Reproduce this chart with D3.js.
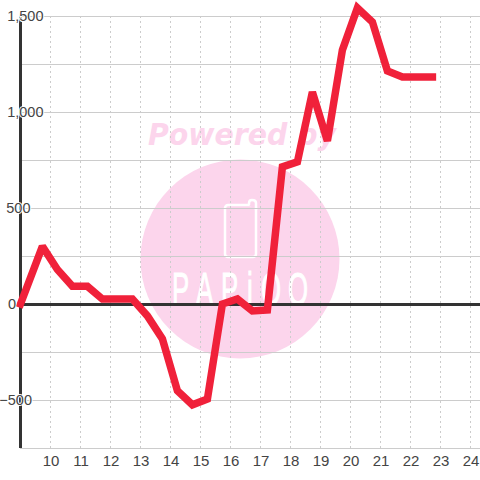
<!DOCTYPE html>
<html><head><meta charset="utf-8">
<style>html,body{margin:0;padding:0;background:#fff}svg{display:block}</style>
<script src="https://cdnjs.cloudflare.com/ajax/libs/d3/7.8.5/d3.min.js"></script></head>
<body><svg id="c" width="480" height="480"></svg>
<script>
const hours=[9,9.73,10.23,10.73,11.23,11.73,12.23,12.73,13.23,13.73,14.23,14.73,15.23,15.73,16.23,16.73,17.23,17.73,18.23,18.73,19.23,19.73,20.23,20.73,21.23,21.73,22.23,22.73];
const values=[0,300,180,92,92,26,26,26,-62,-182,-452,-525,-495,0,26,-36,-31,714,740,1104,849,1323,1542,1469,1214,1182,1182,1182];
const xTicks=[10,11,12,13,14,15,16,17,18,19,20,21,22,23,24];
const yMajor=[1500,1000,500,0,-500];
const yMinor=[1250,750,250,-250,-750];
const yLabelRight=[43.5,43.5,30.5,16,32];
const logoLetters=["P","A","P","i","O","O"];
const logoLeft=[172,196,221,247,261,288];

const svg=d3.select("#c");
const x=d3.scaleLinear().domain([10,24]).range([50.5,470.5]);
const y=d3.scaleLinear().domain([1500,-750]).range([16,448]);
const line=d3.line().x((d,i)=>x(hours[i])).y(d=>y(d));

// watermark
const wm=svg.append("g");
wm.append("circle").attr("cx",240).attr("cy",259).attr("r",99.5).attr("fill","#fcd5ec");
wm.append("text").attr("x",148).attr("y",145).attr("font-family","DejaVu Sans").attr("font-weight","bold").attr("font-style","italic")
  .attr("font-size",30).attr("fill","#fcd5ec").attr("textLength",188).attr("lengthAdjust","spacingAndGlyphs").text("Powered by");
wm.append("rect").attr("x",225).attr("y",205).attr("width",31).attr("height",52).attr("rx",3).attr("fill","none").attr("stroke","#fff").attr("stroke-width",2.5);
wm.append("path").attr("d","M249 205 V203 Q249 200 252 200 Q256 200 256 203 V210").attr("fill","#fcd5ec").attr("stroke","#fff").attr("stroke-width",2.5);
wm.append("g").selectAll("text").data(logoLetters).join("text")
  .attr("transform",(d,i)=>`translate(${logoLeft[i]},305) scale(.56,1)`)
  .attr("font-family","Liberation Sans").attr("font-size",46).attr("fill","#fff").attr("stroke","#fff").attr("stroke-width",1).text(d=>d);

// grid
svg.append("g").selectAll("line").data(xTicks).join("line")
  .attr("x1",d=>x(d)).attr("x2",d=>x(d)).attr("y1",16).attr("y2",448)
  .attr("stroke","#ccc").attr("stroke-dasharray","2,3");
svg.append("g").selectAll("line").data(yMinor.concat(yMajor.filter(d=>d!==0))).join("line")
  .attr("x1",20).attr("x2",480).attr("y1",d=>y(d)+.5).attr("y2",d=>y(d)+.5)
  .attr("stroke","#ccc").attr("stroke-width",1);

// axes
svg.append("line").attr("x1",20.5).attr("x2",20.5).attr("y1",16).attr("y2",448).attr("stroke","#333").attr("stroke-width",3);
svg.append("line").attr("x1",20).attr("x2",480).attr("y1",y(0)+.5).attr("y2",y(0)+.5).attr("stroke","#333").attr("stroke-width",3);

// data line
svg.append("path").datum(values).attr("d",line).attr("fill","none").attr("stroke","#f0213a").attr("stroke-width",7.5)
  .attr("stroke-linejoin","miter").attr("stroke-miterlimit",2).attr("stroke-linecap","square");

// labels
const yl=svg.append("g").attr("font-family","Liberation Sans").attr("font-size",14.5).attr("fill","#444");
const fmt=d3.format(",");
yl.selectAll("text").data(yMajor).join("text")
  .attr("x",(d,i)=>yLabelRight[i]).attr("y",d=>y(d)).attr("dy","0.35em").attr("text-anchor","end")
  .attr("stroke","#fff").attr("stroke-width",2).attr("paint-order","stroke").text(d=>fmt(d));
svg.append("g").attr("font-family","Liberation Sans").attr("font-size",15).attr("fill","#444")
  .selectAll("text").data(xTicks).join("text").attr("x",d=>x(d)+.5).attr("y",466).attr("text-anchor","middle").text(d=>d);
</script></body></html>
